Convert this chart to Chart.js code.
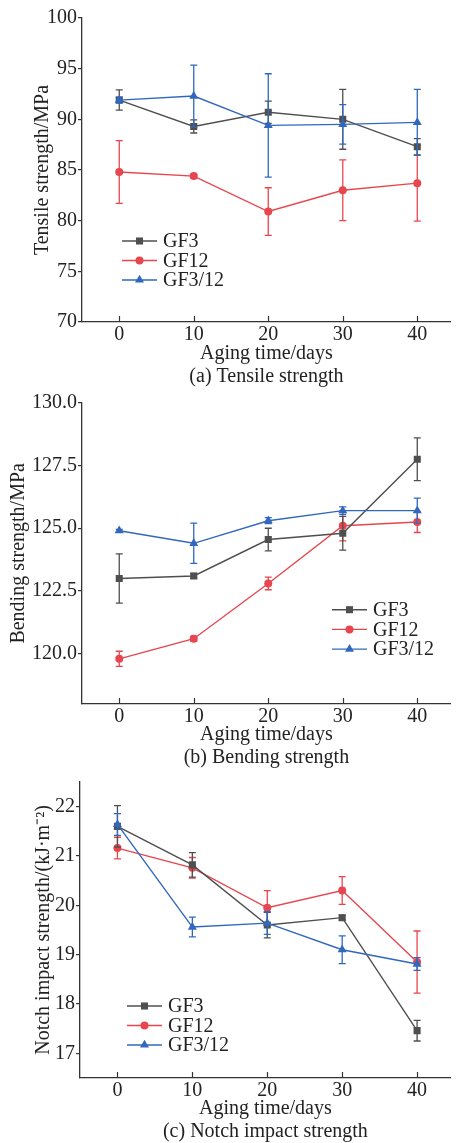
<!DOCTYPE html>
<html>
<head>
<meta charset="utf-8">
<script src="https://cdn.jsdelivr.net/npm/chart.js@4.4.1/dist/chart.umd.min.js"></script>
<style>
  body { margin: 0; background: #fff; }
  canvas { display: block; }
</style>
</head>
<body>
<canvas id="tensileChart" width="456" height="388"></canvas>
<canvas id="bendingChart" width="456" height="381"></canvas>
<canvas id="impactChart" width="456" height="374"></canvas>
<script>
// aging time (days) and series names
const days = [0, 10, 20, 30, 40];
const seriesNames = ['GF3', 'GF12', 'GF3/12'];

// (a) tensile strength, MPa
const tensileGF3 = [91.9, 89.3, 90.7, 90.0, 87.3];
const tensileGF3Err = [1.0, 0.65, 1.1, 2.95, 0.8];
const tensileGF12 = [84.8, 84.4, 80.9, 83.0, 83.7];
const tensileGF12Err = [3.1, 0.2, 2.35, 3.0, 3.75];
const tensileGF312 = [91.9, 92.3, 89.4, 89.5, 89.7];
const tensileGF312Err = [0.3, 3.05, 5.1, 1.95, 3.25];
const tensileTicks = [70, 75, 80, 85, 90, 95, 100];

// (b) bending strength, MPa
const bendingGF3 = [123.0, 123.1, 124.55, 124.8, 127.75];
const bendingGF3Err = [0.98, 0.1, 0.45, 0.67, 0.85];
const bendingGF12 = [119.8, 120.6, 122.8, 125.1, 125.25];
const bendingGF12Err = [0.3, 0.1, 0.25, 0.6, 0.42];
const bendingGF312 = [124.9, 124.4, 125.3, 125.7, 125.7];
const bendingGF312Err = [0.05, 0.8, 0.12, 0.15, 0.5];
const bendingTicks = [120, 122.5, 125, 127.5, 130];

// (c) notch impact strength, kJ/m2
const impactGF3 = [21.6, 20.82, 19.6, 19.75, 17.46];
const impactGF3Err = [0.42, 0.25, 0.26, 0.05, 0.21];
const impactGF12 = [21.16, 20.76, 19.95, 20.3, 18.85];
const impactGF12Err = [0.22, 0.21, 0.35, 0.28, 0.63];
const impactGF312 = [21.64, 19.56, 19.64, 19.1, 18.81];
const impactGF312Err = [0.22, 0.2, 0.23, 0.28, 0.13];
const impactTicks = [17, 18, 19, 20, 21, 22];

const FONT = "'Liberation Serif', 'Times New Roman', serif";
const FSIZE = 20;
const TEXT = '#222';
const AXIS = '#333';
const LW = 1.4;
const styles = [
  { color: '#4f4f4f', point: 'rect', radius: 5, order: 1 },
  { color: '#e8464e', point: 'circle', radius: 4, order: 2 },
  { color: '#3168be', point: 'triangle', radius: 5.2, order: 0 }
];

// error bars drawn through the scales
const errorBars = {
  id: 'errorBars',
  beforeDatasetDraw(chart, args) {
    const ds = chart.data.datasets[args.index];
    if (!ds.errors) return;
    const xs = chart.scales.x, ys = chart.scales.y, ctx = chart.ctx;
    ctx.save();
    ctx.strokeStyle = ds.borderColor;
    ctx.lineWidth = 1.3;
    ds.data.forEach((p, i) => {
      const px = xs.getPixelForValue(p.x);
      const top = ys.getPixelForValue(p.y + ds.errors[i]);
      const bot = ys.getPixelForValue(p.y - ds.errors[i]);
      ctx.beginPath();
      ctx.moveTo(px, top); ctx.lineTo(px, bot);
      ctx.moveTo(px - 3.5, top); ctx.lineTo(px + 3.5, top);
      ctx.moveTo(px - 3.5, bot); ctx.lineTo(px + 3.5, bot);
      ctx.stroke();
    });
    ctx.restore();
  }
};

// x ticks pointing inward
const innerTicks = {
  id: 'innerTicks',
  afterDraw(chart) {
    const xs = chart.scales.x, ctx = chart.ctx, b = chart.chartArea.bottom;
    ctx.save();
    ctx.strokeStyle = AXIS;
    ctx.lineWidth = 1.2;
    xs.ticks.forEach(t => {
      const px = Math.round(xs.getPixelForValue(t.value)) + 0.5;
      ctx.beginPath();
      ctx.moveTo(px, b);
      ctx.lineTo(px, b - 6);
      ctx.stroke();
    });
    ctx.restore();
  }
};

function drawMarker(ctx, st, x, y) {
  const r = st.radius;
  ctx.beginPath();
  if (st.point === 'rect') {
    const s = r * Math.SQRT1_2;
    ctx.rect(x - s, y - s, 2 * s, 2 * s);
  } else if (st.point === 'circle') {
    ctx.arc(x, y, r, 0, Math.PI * 2);
  } else {
    ctx.moveTo(x, y - r);
    ctx.lineTo(x + r * 0.866, y + r * 0.5);
    ctx.lineTo(x - r * 0.866, y + r * 0.5);
    ctx.closePath();
  }
  ctx.fill();
}

// legend inside the plot area
const innerLegend = {
  id: 'innerLegend',
  afterDatasetsDraw(chart, args, opts) {
    const ctx = chart.ctx, ca = chart.chartArea;
    ctx.save();
    ctx.font = FSIZE + 'px ' + FONT;
    ctx.textBaseline = 'middle';
    chart.data.datasets.forEach((ds, i) => {
      const st = styles[i];
      const x0 = ca.left + opts.x, y0 = ca.top + opts.y + i * opts.gap;
      ctx.strokeStyle = st.color;
      ctx.fillStyle = st.color;
      ctx.lineWidth = LW;
      ctx.beginPath();
      ctx.moveTo(x0, y0); ctx.lineTo(x0 + 35, y0);
      ctx.stroke();
      drawMarker(ctx, st, x0 + 17.5, y0);
      ctx.fillStyle = TEXT;
      ctx.fillText(ds.label, x0 + 41, y0 + 1);
    });
    ctx.restore();
  }
};

function makeChart(id, cfg) {
  const datasets = cfg.series.map((vals, i) => ({
    label: seriesNames[i],
    data: days.map((d, j) => ({ x: d, y: vals[j] })),
    errors: cfg.errors[i],
    borderColor: styles[i].color,
    backgroundColor: styles[i].color,
    borderWidth: LW,
    pointStyle: styles[i].point,
    pointRadius: styles[i].radius,
    pointBorderWidth: 0,
    order: styles[i].order,
    tension: 0
  }));
  return new Chart(document.getElementById(id), {
    type: 'line',
    data: { datasets: datasets },
    plugins: [errorBars, innerTicks, innerLegend],
    options: {
      responsive: false,
      animation: false,
      devicePixelRatio: 1,
      layout: { padding: { top: cfg.top, left: 0, right: 0, bottom: 0 } },
      plugins: {
        legend: { display: false },
        tooltip: { enabled: false },
        innerLegend: cfg.legend
      },
      scales: {
        x: {
          type: 'linear',
          min: -5,
          max: 44.5,
          afterBuildTicks: s => { s.ticks = days.map(v => ({ value: v })); },
          afterFit: s => { s.height = cfg.xHeight; },
          grid: { display: false, drawTicks: false },
          border: { display: true, color: AXIS, width: 1.3 },
          ticks: { color: TEXT, padding: 1, font: { family: FONT, size: FSIZE } },
          title: {
            display: true,
            text: ['Aging time/days', cfg.caption],
            color: TEXT,
            padding: { top: 0, bottom: 0 },
            font: { family: FONT, size: FSIZE, lineHeight: 1.15 }
          }
        },
        y: {
          min: cfg.yMin,
          max: cfg.yMax,
          afterBuildTicks: s => { s.ticks = cfg.yTicks.map(v => ({ value: v })); },
          afterFit: s => { s.width = cfg.yWidth; },
          grid: { drawOnChartArea: false, drawTicks: true, tickLength: 4, color: AXIS, lineWidth: 1.2 },
          border: { display: true, color: AXIS, width: 1.3 },
          ticks: {
            color: TEXT,
            padding: 1,
            font: { family: FONT, size: FSIZE },
            callback: v => v.toFixed(cfg.decimals)
          },
          title: {
            display: true,
            text: cfg.yTitle,
            color: TEXT,
            padding: { top: cfg.yTitlePad, bottom: 0 },
            font: { family: FONT, size: FSIZE, lineHeight: 1.2 }
          }
        }
      }
    }
  });
}

makeChart('tensileChart', {
  series: [tensileGF3, tensileGF12, tensileGF312],
  errors: [tensileGF3Err, tensileGF12Err, tensileGF312Err],
  yMin: 70, yMax: 100, yTicks: tensileTicks, decimals: 0,
  yTitle: 'Tensile strength/MPa', caption: '(a) Tensile strength',
  top: 18, xHeight: 66, yWidth: 82, yTitlePad: 31,
  legend: { x: 40, y: 223, gap: 19.5 }
});

makeChart('bendingChart', {
  series: [bendingGF3, bendingGF12, bendingGF312],
  errors: [bendingGF3Err, bendingGF12Err, bendingGF312Err],
  yMin: 118, yMax: 130, yTicks: bendingTicks, decimals: 1,
  yTitle: 'Bending strength/MPa', caption: '(b) Bending strength',
  top: 14.7, xHeight: 65, yWidth: 82, yTitlePad: 6.3,
  legend: { x: 250, y: 207, gap: 19.7 }
});

makeChart('impactChart', {
  series: [impactGF3, impactGF12, impactGF312],
  errors: [impactGF3Err, impactGF12Err, impactGF312Err],
  yMin: 16.5, yMax: 22.5, yTicks: impactTicks, decimals: 0,
  yTitle: 'Notch impact strength/(kJ\u00b7m\u207b\u00b2)', caption: '(c) Notch impact strength',
  top: 6, xHeight: 65, yWidth: 80, yTitlePad: 31.3,
  legend: { x: 47, y: 224, gap: 19.5 }
});
</script>
</body>
</html>
